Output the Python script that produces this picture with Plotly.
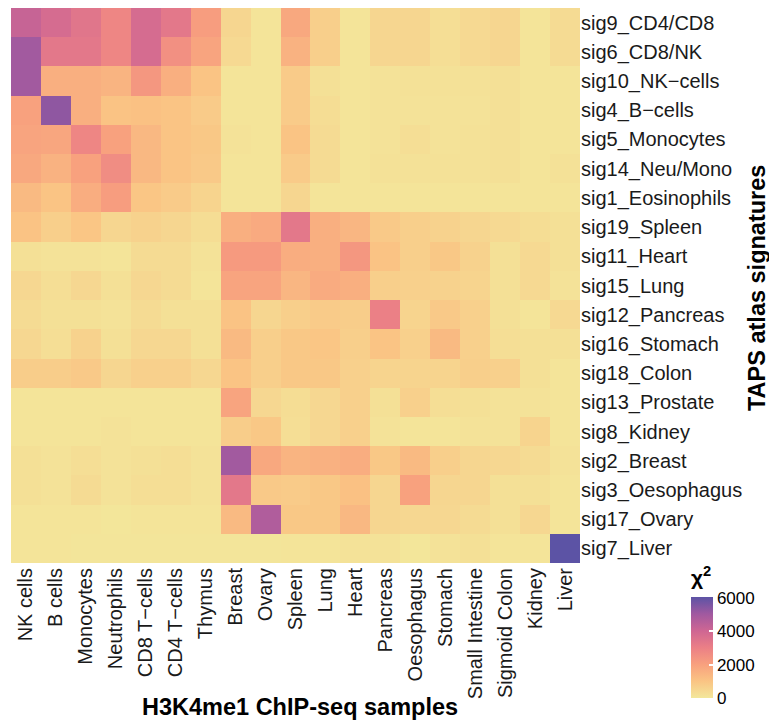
import plotly.graph_objects as go

samples = ["NK cells", "B cells", "Monocytes", "Neutrophils", "CD8 T−cells", "CD4 T−cells",
           "Thymus", "Breast", "Ovary", "Spleen", "Lung", "Heart", "Pancreas", "Oesophagus",
           "Stomach", "Small Intestine", "Sigmoid Colon", "Kidney", "Liver"]

signatures = ["sig9_CD4/CD8", "sig6_CD8/NK", "sig10_NK−cells", "sig4_B−cells", "sig5_Monocytes",
              "sig14_Neu/Mono", "sig1_Eosinophils", "sig19_Spleen", "sig11_Heart", "sig15_Lung",
              "sig12_Pancreas", "sig16_Stomach", "sig18_Colon", "sig13_Prostate", "sig8_Kidney",
              "sig2_Breast", "sig3_Oesophagus", "sig17_Ovary", "sig7_Liver"]

sig9 = [4200, 3800, 3400, 2800, 3800, 3300, 2100, 500, 80, 1800, 700, 100, 500, 500, 250, 400, 500, 100, 350]
sig6 = [5000, 3300, 3300, 2800, 3800, 2500, 1900, 400, 100, 1500, 700, 100, 500, 500, 250, 400, 500, 100, 350]
sig10 = [5000, 1600, 1600, 1450, 2300, 1600, 1000, 100, 100, 800, 200, 100, 150, 170, 170, 170, 200, 100, 100]
sig4 = [2000, 5300, 1600, 1050, 1100, 1000, 800, 100, 100, 800, 300, 100, 150, 150, 150, 150, 200, 100, 100]
sig5 = [1900, 1850, 2800, 2000, 1350, 1000, 900, 150, 100, 1000, 350, 100, 150, 250, 150, 170, 200, 100, 100]
sig14 = [1800, 1500, 2000, 2600, 1350, 1000, 850, 100, 100, 800, 350, 100, 170, 170, 170, 170, 200, 100, 170]
sig1 = [1300, 1000, 1650, 2100, 950, 800, 550, 80, 80, 500, 80, 80, 80, 80, 80, 80, 80, 80, 80]
sig19 = [1050, 700, 950, 500, 600, 500, 300, 1600, 1750, 3300, 1600, 1400, 850, 700, 600, 500, 400, 300, 200]
sig11 = [200, 150, 150, 100, 350, 350, 150, 2200, 2200, 1650, 1600, 2300, 1050, 700, 900, 600, 200, 400, 200]
sig15 = [450, 250, 450, 200, 450, 350, 100, 1900, 1900, 1400, 1700, 1600, 700, 650, 600, 550, 200, 400, 150]
sig12 = [350, 200, 200, 150, 350, 200, 200, 1050, 500, 700, 800, 750, 3000, 550, 850, 650, 200, 100, 400]
sig16 = [450, 250, 600, 200, 450, 450, 200, 1300, 700, 900, 950, 700, 1000, 650, 1300, 650, 250, 200, 200]
sig18 = [750, 750, 850, 500, 650, 650, 450, 1000, 700, 900, 900, 650, 550, 550, 550, 700, 650, 200, 100]
sig13 = [80, 80, 80, 80, 80, 80, 80, 1900, 450, 300, 450, 650, 200, 650, 250, 200, 150, 150, 100]
sig8 = [80, 80, 80, 150, 80, 80, 80, 750, 900, 250, 450, 650, 150, 80, 80, 150, 150, 550, 80]
sig2 = [200, 150, 250, 150, 200, 250, 150, 5000, 1800, 1450, 1550, 1650, 900, 1300, 700, 500, 450, 350, 150]
sig3 = [200, 150, 350, 150, 250, 250, 150, 3300, 850, 800, 900, 1100, 500, 2000, 500, 500, 200, 200, 100]
sig17 = [80, 80, 80, 30, 80, 80, 80, 1300, 4700, 900, 900, 1350, 500, 450, 450, 350, 200, 450, 80]
sig7 = [80, 80, 60, 60, 60, 60, 60, 60, 60, 100, 100, 150, 150, 30, 150, 200, 100, 100, 6050]

z = [sig9, sig6, sig10, sig4, sig5, sig14, sig1, sig19, sig11, sig15,
     sig12, sig16, sig18, sig13, sig8, sig2, sig3, sig17, sig7]

colorbar_ticks = [0, 2000, 4000, 6000]

W, H = 769, 722
L, R, T, B = 11, 189, 8, 159
PW, PH = W - L - R, H - T - B
FONT = "Liberation Sans, Arial, sans-serif"


def px_x(x):
    return (x - L) / PW


def px_y(y):
    return (H - B - y) / PH


fig = go.Figure(go.Heatmap(
    z=z, x=samples, y=signatures,
    colorscale="Sunset", zmin=0, zmax=6050,
    xgap=0, ygap=0,
    colorbar=dict(
        title=dict(text="<b>χ<sup>2</sup></b>", side="top", font=dict(size=21, color="black", family=FONT)),
        x=px_x(691), xanchor="left",
        y=px_y(698), yanchor="bottom",
        lenmode="pixels", len=132, thickness=22,
        outlinewidth=0, xpad=0, ypad=0,
        tickvals=colorbar_ticks, ticks="inside", tickcolor="white", ticklen=4, tickwidth=1.5,
        tickfont=dict(size=17, color="black", family=FONT),
    ),
))

fig.update_layout(
    width=W, height=H,
    margin=dict(l=L, r=R, t=T, b=B, autoexpand=False),
    paper_bgcolor="white", plot_bgcolor="white",
    font=dict(family=FONT, color="black"),
    xaxis=dict(tickangle=-90, tickfont=dict(size=20, color="#1a1a1a"), showgrid=False,
               zeroline=False, ticks="", automargin=False),
    yaxis=dict(side="right", autorange="reversed", tickfont=dict(size=20, color="#1a1a1a"),
               showgrid=False, zeroline=False, ticks="", automargin=False),
    annotations=[
        dict(text="<b>H3K4me1 ChIP-seq samples</b>", xref="paper", yref="paper",
             x=px_x(300), y=px_y(707), xanchor="center", yanchor="middle",
             showarrow=False, font=dict(size=23.5, color="black", family=FONT)),
        dict(text="<b>TAPS atlas signatures</b>", xref="paper", yref="paper",
             x=px_x(757), y=px_y(288), xanchor="center", yanchor="middle",
             textangle=-90, showarrow=False, font=dict(size=23.5, color="black", family=FONT)),
    ],
)

fig.write_html("out.html")
